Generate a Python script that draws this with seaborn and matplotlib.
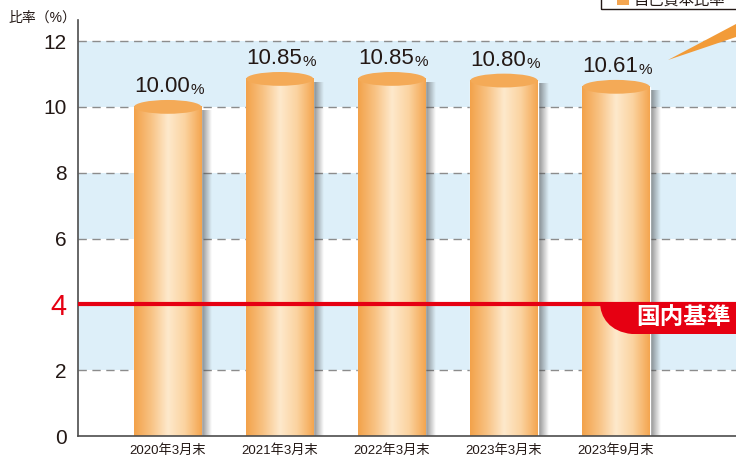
import numpy as np
import pandas as pd
import matplotlib.pyplot as plt
import seaborn as sns
from matplotlib.patches import Ellipse, Rectangle, Polygon, PathPatch
from matplotlib.path import Path
from matplotlib.colors import LinearSegmentedColormap

# データ
periods = ['2020年3月末', '2021年3月末', '2022年3月末', '2023年3月末', '2023年9月末']
ratios = [10.00, 10.85, 10.85, 10.80, 10.61]
ratio_labels = ['10.00', '10.85', '10.85', '10.80', '10.61']
yticks = [0, 2, 4, 6, 8, 10, 12]
domestic_standard = 4

df = pd.DataFrame({'period': periods, 'ratio': ratios})

sns.set_style('white')
plt.rcParams['font.family'] = ['Liberation Sans', 'Noto Sans CJK JP', 'DejaVu Sans']

fig = plt.figure(figsize=(7.36, 4.65), dpi=100)
ax = fig.add_axes([78 / 736, 29 / 465, 1 - 78 / 736, 416 / 465])

orange = '#F4A651'
red = '#E60012'

sns.barplot(data=df, x='period', y='ratio', color=orange, width=0.6,
            saturation=1, ax=ax, zorder=2)
bars = list(ax.containers[0])

# 背景の帯
for lo in [2, 6, 10]:
    ax.axhspan(lo, lo + 2, color='#DDEFF9', zorder=0, lw=0)
for y in [2, 4, 6, 8, 10, 12]:
    ax.axhline(y, color='#8c8c8c', lw=1, ls=(0, (6, 4)), zorder=0.5)

# 円柱風のグラデーション
cyl = LinearSegmentedColormap.from_list(
    'cyl', ['#F3A24A', '#F8C283', '#FEE9CC', '#FBD3A0', '#F4A54F'])
grad = np.linspace(0, 1, 256).reshape(1, -1)
shade = np.zeros((1, 64, 4))
shade[..., :3] = 0.3
shade[..., 3] = np.linspace(0.65, 0, 64)
ell_h = 0.42
for p, lab in zip(bars, ratio_labels):
    x0, w, h = p.get_x(), p.get_width(), p.get_height()
    cx = x0 + w / 2
    ax.imshow(shade, extent=[x0 + w, x0 + w + 0.09, 0, h - 0.1],
              aspect='auto', zorder=1.9)
    ax.imshow(grad, cmap=cyl, extent=[x0, x0 + w, 0, h],
              aspect='auto', zorder=2.1)
    ax.add_patch(Ellipse((cx, h), w, ell_h, color='#F4AA57', zorder=2.2, lw=0))
    ax.text(cx + 0.2, h + 0.3, lab, ha='right', va='bottom',
            fontsize=16, color='#231815', zorder=4)
    ax.text(cx + 0.2, h + 0.3, '%', ha='left', va='bottom',
            fontsize=11, color='#231815', zorder=4)

ax.set_xlim(-0.80, 5.07)
ax.set_ylim(0, 12.64)

# 国内基準線
ax.axhline(domestic_standard, color=red, lw=3, zorder=3)
tr = ax.transAxes
bx0 = (600 - 78) / 658
bxr = (632 - 78) / 658
by_top = (436 - 302) / 416
by_bot = (436 - 334) / 416
verts = [(bx0, by_top), (1.01, by_top), (1.01, by_bot), (bxr, by_bot),
         (bx0 + 0.015, by_bot + 0.005), (bx0, by_bot + 0.04), (bx0, by_top)]
codes = [Path.MOVETO, Path.LINETO, Path.LINETO, Path.LINETO,
         Path.CURVE4, Path.CURVE4, Path.CURVE4]
ax.add_patch(PathPatch(Path(verts, codes), transform=tr, color=red,
                       lw=0, zorder=3, clip_on=False))
ax.text((684 - 78) / 658, (436 - 318) / 416, '国内基準', transform=tr,
        ha='center', va='center', color='white', fontsize=17,
        fontweight='bold', zorder=4)

# 軸
ax.set_yticks(yticks)
ax.set_yticklabels([str(v) for v in yticks])
ax.tick_params(axis='y', length=0, labelsize=15, colors='#231815', pad=8)
ax.tick_params(axis='x', length=0, labelsize=9.5, colors='#231815', pad=6)
for t in ax.get_yticklabels():
    if t.get_text() == str(domestic_standard):
        t.set_color(red)
        t.set_fontsize(21)
ax.set_xlabel('')
ax.set_ylabel('')
for s in ['top', 'right']:
    ax.spines[s].set_visible(False)
for s in ['left', 'bottom']:
    ax.spines[s].set_color('#4d4d4d')
    ax.spines[s].set_linewidth(1.2)
ax.grid(False)

fig.text(8 / 736, 1 - 22 / 465, '比率（%）', fontsize=10, color='#231815',
         va='baseline')

# 凡例(上部で切れている)
fig.patches.append(Rectangle((601 / 736, 1 - 9 / 465), 0.3, 0.05,
                             transform=fig.transFigure, fill=False,
                             ec='#231815', lw=1))
fig.patches.append(Rectangle((617 / 736, 1 - 5 / 465), 12 / 736, 0.03,
                             transform=fig.transFigure, color=orange, lw=0))
fig.text(634 / 736, 1 - 5 / 465, '自己資本比率', fontsize=11,
         color='#231815', va='baseline')
fig.patches.append(Polygon([(668 / 736, 1 - 60 / 465), (736 / 736, 1 - 24 / 465),
                            (736 / 736, 1 - 37 / 465)],
                           transform=fig.transFigure, color='#F29B38', lw=0))

fig.savefig('out.png', dpi=100)
